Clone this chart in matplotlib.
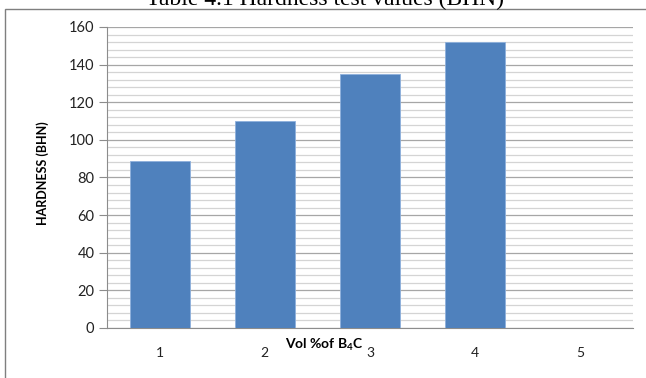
import matplotlib
matplotlib.use("Agg")
import matplotlib.pyplot as plt
from matplotlib.patches import Rectangle
from matplotlib.ticker import MultipleLocator

# hardness values per sample
samples = ["1", "2", "3", "4", "5"]
hardness = [89, 110, 135, 152, 0]

plt.rcParams['font.family'] = ['Lato', 'DejaVu Sans']
plt.rcParams['mathtext.default'] = 'regular'

fig = plt.figure(figsize=(6.46, 3.78), dpi=100)
ax = fig.add_axes([0.1656, 0.1323, 0.8144, 0.7963])

x = list(range(len(samples)))
ax.bar(x, hardness, width=0.57, color="#4f81bd", edgecolor="#8eb0dc",
       linewidth=0.6, zorder=3)

ax.set_xlim(-0.5, len(samples) - 0.5)
ax.set_ylim(0, 160)
ax.yaxis.set_major_locator(MultipleLocator(20))
ax.yaxis.set_minor_locator(MultipleLocator(4))
ax.grid(which="major", axis="y", color="#a6a6a6", linewidth=0.9, zorder=0)
ax.grid(which="minor", axis="y", color="#d4d4d4", linewidth=0.9, zorder=0)

ax.set_xticks(x)
ax.set_xticklabels(samples)
ax.tick_params(axis="x", length=0, pad=13.5, labelsize=10, labelcolor="#222222")
ax.tick_params(axis="y", which="major", length=6, color="#8c8c8c",
               labelsize=10.5, labelcolor="#222222", pad=3)
ax.tick_params(axis="y", which="minor", length=0)

for side in ["top", "right"]:
    ax.spines[side].set_visible(False)
ax.spines["left"].set_color("#8c8c8c")
ax.spines["bottom"].set_color("#8c8c8c")

fig.text(0.0666, 0.541, "HARDNESS (BHN)", rotation=90, ha="center",
         va="center", fontsize=9, fontweight="bold")
fig.text(0.5015, 0.087, "Vol %of B$_4$C", ha="center", va="center",
         fontsize=10, fontweight="bold")

# outer frame and caption above it
fig.patches.append(Rectangle((5 / 646, -0.2), 1.2, 0.2 + (378 - 9) / 378,
                             transform=fig.transFigure, fill=False,
                             edgecolor="#7f7f7f", linewidth=1.0))
fig.text(0.503, 0.987, "Table 4.1 Hardness test values (BHN)", ha="center",
         va="baseline", fontsize=17, family="Liberation Serif")

fig.savefig("out.png", dpi=100)
